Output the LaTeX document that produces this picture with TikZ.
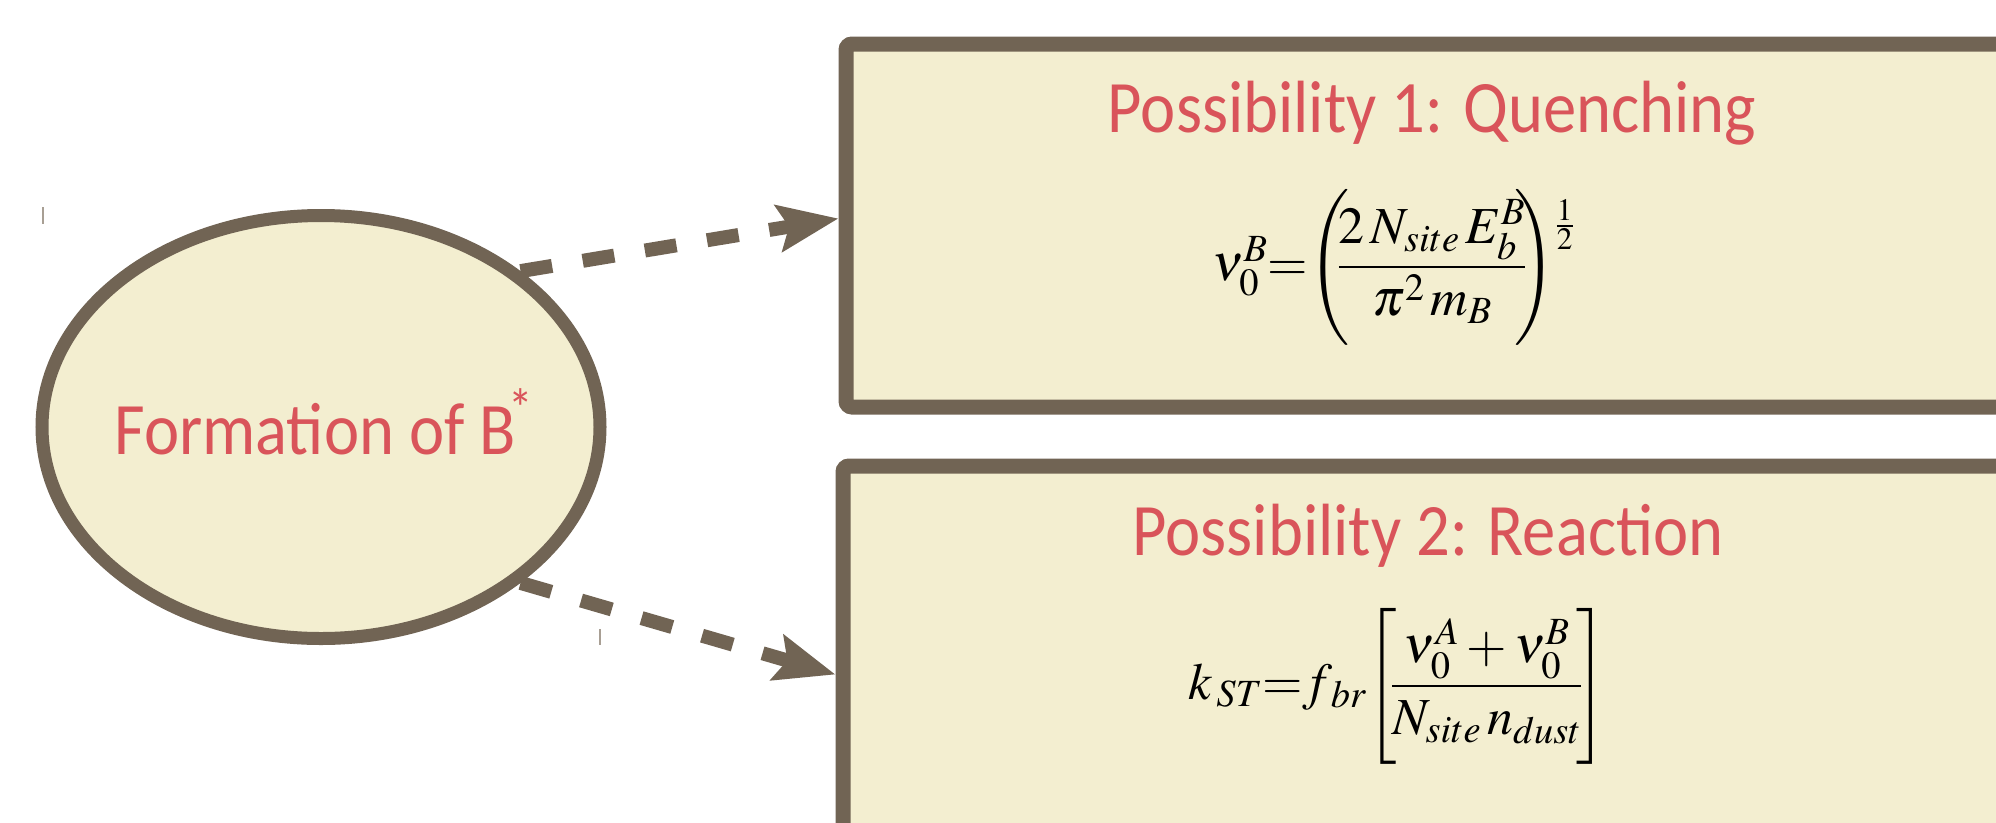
\documentclass[tikz,border=0pt]{standalone}
\usepackage{amsmath}
\usepackage{mathptmx}
\usepackage{fontspec}
\newfontfamily\lblfont[FakeStretch=0.9]{Carlito}
\usetikzlibrary{positioning,arrows.meta,calc,shapes.geometric}
\definecolor{edgebrown}{HTML}{716454}
\definecolor{creamfill}{HTML}{F3EED0}
\definecolor{titlered}{HTML}{D9545A}
\definecolor{speckgray}{HTML}{A89F94}
\tikzset{
  stateell/.style={ellipse,draw=edgebrown,fill=creamfill,line width=13pt,
    minimum width=558pt,minimum height=423pt,inner sep=0pt},
  possbox/.style={rectangle,draw=edgebrown,fill=creamfill,line width=15pt,
    rounded corners=6pt,minimum width=1170pt,inner sep=0pt},
  boxtitle/.style={anchor=base,font=\lblfont\fontsize{74}{76}\selectfont,text=titlered,inner sep=0pt},
  eqn/.style={anchor=base,font=\fontsize{52}{60}\selectfont,inner sep=0pt},
  flow/.style={-{Stealth[length=60pt,width=46pt,inset=10pt]},edgebrown,
    line width=14pt,dash pattern=on 32pt off 31pt},
  speck/.style={speckgray,line width=2pt},
}
\begin{document}
\begin{tikzpicture}[x=1pt,y=-1pt]
  \useasboundingbox (0,0) rectangle (1996,822);
  \clip (0,0) rectangle (1996,822);
  % the excited state
  \node[stateell] (form) at (321,427) {};
  \node[boxtitle] (formlbl) at (324,454) {Formation of B\hspace{-0.1em}\textsuperscript{*}};
  % the two outcomes
  \node[possbox,minimum height=363pt] (quench) at (1431,225.5) {};
  \node[possbox,minimum height=500pt] (reaction) at (1428,716) {};
  \node[boxtitle] (quenchttl) at (1432,132) {Possibility 1: Quenching};
  \node[boxtitle] (reactttl) at (1428,555) {Possibility 2: Reaction};
  \node[eqn] (quencheq) at (1393,280)
    {$\nu_0^B{=}\Biggl(\!\!\dfrac{2\,N_{site}\,E_b^B}{\pi^2\,m_B}\!\!\Biggr)\raisebox{0.85em}{$\scriptstyle\frac{1}{2}$}$};
  \node[eqn] (reacteq) at (1398,699)
    {$k_{\,ST}{=}f_{\,br}\Biggl[\!\dfrac{\nu_0^A+\nu_0^B}{N_{site}\,n_{dust}}\!\Biggr]$};
  % dashed branches
  \draw[flow] (form.38) -- ([yshift=7pt]quench.west);
  \draw[flow] (form.-38) -- ($(reaction.north west)+(0,216)$);
  % stray marks
  \draw[speck] (43,207) -- (43,224);
  \draw[speck] (600,629) -- (600,645);
\end{tikzpicture}
\end{document}
